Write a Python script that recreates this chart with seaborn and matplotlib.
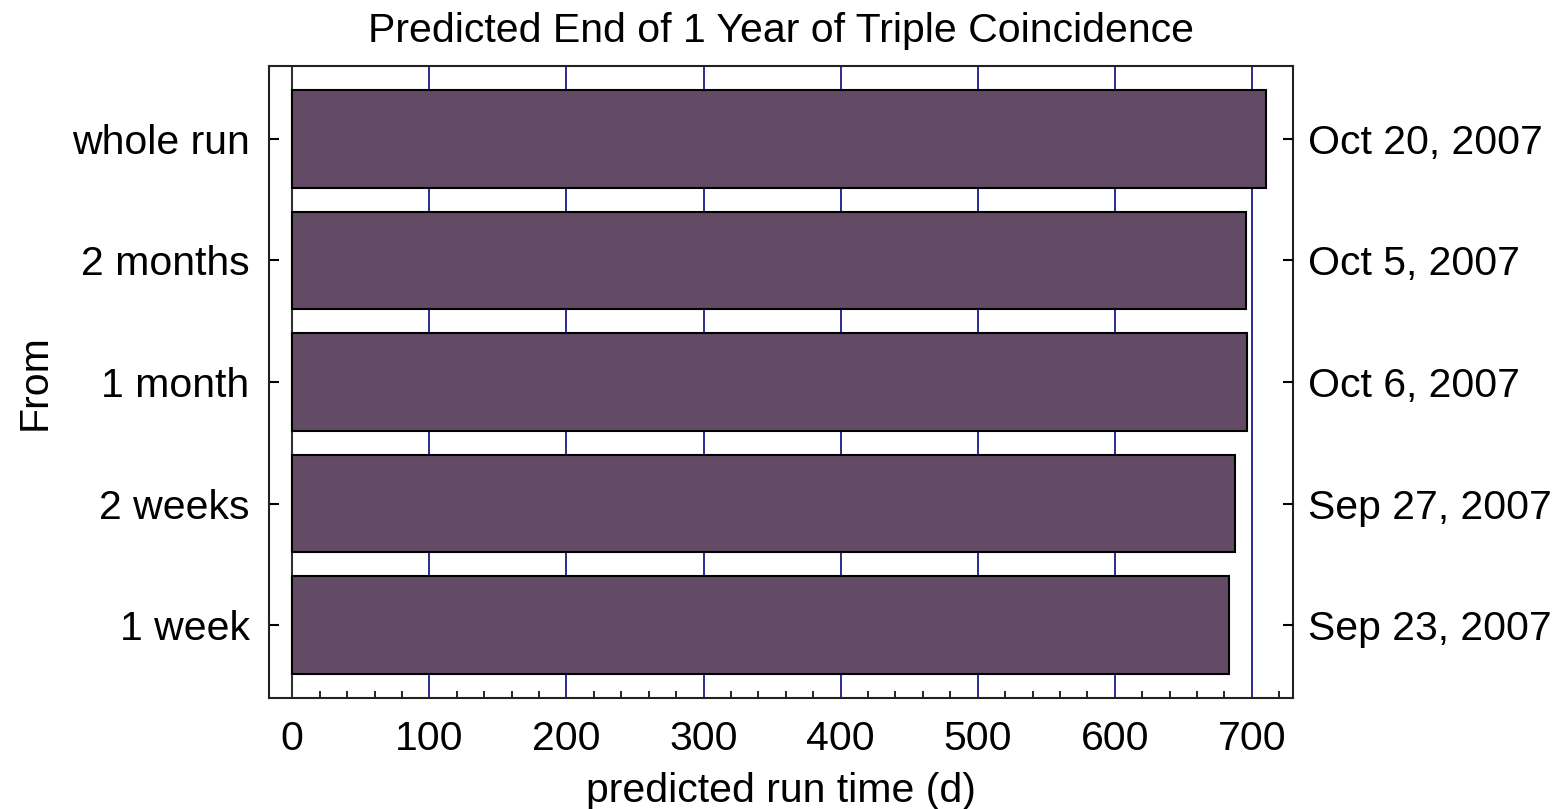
import matplotlib
matplotlib.use("Agg")
import matplotlib.pyplot as plt
import seaborn as sns
import pandas as pd
from matplotlib.ticker import MultipleLocator

# data
periods = ['whole run', '2 months', '1 month', '2 weeks', '1 week']
run_days = [710.6, 695.4, 696.4, 687.5, 683.5]
end_dates = ['Oct 20, 2007', 'Oct 5, 2007', 'Oct 6, 2007', 'Sep 27, 2007', 'Sep 23, 2007']


def main():
    sns.set_style('white')
    plt.rcParams['font.family'] = ['Liberation Sans', 'DejaVu Sans']
    plt.rcParams['text.color'] = 'black'
    plt.rcParams['axes.labelcolor'] = 'black'
    plt.rcParams['xtick.color'] = 'black'
    plt.rcParams['ytick.color'] = 'black'

    df = pd.DataFrame({'From': periods, 'days': run_days})

    fig = plt.figure(figsize=(15.61, 8.09), dpi=100)
    ax = fig.add_axes([0.1723, 0.1372, 0.656, 0.7812])

    for x in range(100, 800, 100):
        ax.axvline(x, color='#1a1a8c', lw=1.3, zorder=0)
    ax.axvline(0, color='#333333', lw=1.5, zorder=0)

    sns.barplot(data=df, x='days', y='From', orient='h', color='#634b65',
                saturation=1, width=0.8, edgecolor='black', linewidth=1.5,
                ax=ax, zorder=2)

    ax.set_xlim(-17, 730)
    ax.set_ylim(4.6, -0.6)
    ax.xaxis.set_major_locator(MultipleLocator(100))
    ax.xaxis.set_minor_locator(MultipleLocator(20))
    ax.tick_params(axis='x', which='major', direction='in', length=0,
                   labelsize=29.5, pad=16)
    ax.tick_params(axis='x', which='minor', direction='in', length=5, width=1.2,
                   bottom=True)
    ax.tick_params(axis='y', direction='in', length=7, width=1.5, left=True,
                   labelsize=29.5, pad=14)
    for s in ax.spines.values():
        s.set_color('#222222')
        s.set_linewidth(1.5)

    ax.set_xlabel('predicted run time (d)', fontsize=29.5, labelpad=10)
    ax.set_ylabel('From', fontsize=29.5, labelpad=13)
    ax.set_title('Predicted End of 1 Year of Triple Coincidence', fontsize=29.5, pad=17)

    ax2 = ax.twinx()
    ax2.set_ylim(ax.get_ylim())
    ax2.set_yticks(range(len(end_dates)))
    ax2.set_yticklabels(end_dates)
    ax2.tick_params(axis='y', direction='in', length=7, width=1.5, right=True,
                    labelsize=29.5, pad=11)
    for s in ax2.spines.values():
        s.set_visible(False)

    fig.savefig('out.png', dpi=100)
    plt.close(fig)


if __name__ == "__main__":
    main()
